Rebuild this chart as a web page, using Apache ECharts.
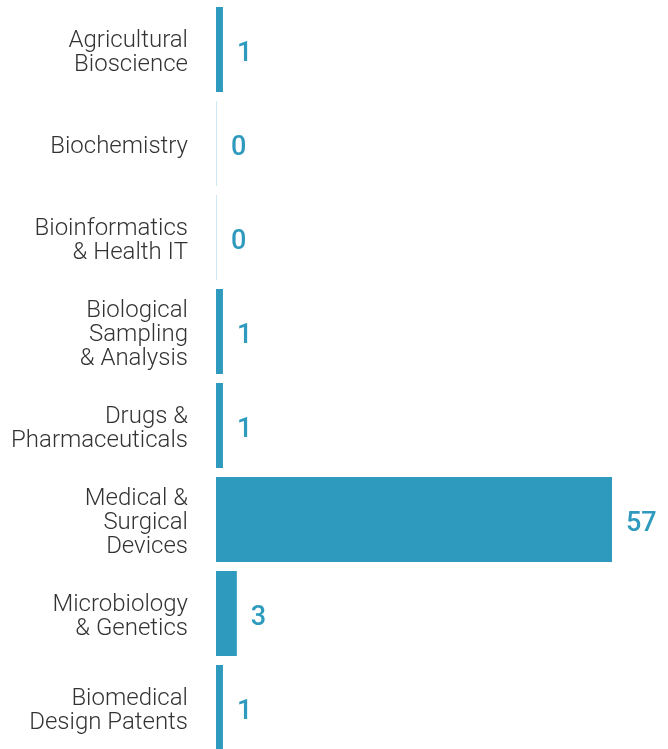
<!DOCTYPE html>
<html><head><meta charset="utf-8">
<script src="https://cdn.jsdelivr.net/npm/echarts@6/dist/echarts.min.js"></script>
<style>html,body{margin:0;padding:0;background:#fff;overflow:hidden}#c{width:668px;height:756px}</style>
</head><body><div id="c"></div>
<script>
const categories = ["Agricultural\nBioscience", "Biochemistry", "Bioinformatics\n& Health IT", "Biological\nSampling\n& Analysis", "Drugs &\nPharmaceuticals", "Medical &\nSurgical\nDevices", "Microbiology\n& Genetics", "Biomedical\nDesign Patents"];
const counts = [1, 0, 0, 1, 1, 57, 3, 1];
const xMax = 60;

const chart = echarts.init(document.getElementById('c'), null, {renderer: 'canvas'});
chart.setOption({
  animation: false,
  grid: {left: 216, top: 2.5, width: 396 * xMax / 57, height: 752, containLabel: false},
  xAxis: {type: 'value', min: 0, max: xMax, show: false},
  yAxis: {
    type: 'category', data: categories, inverse: true,
    axisLine: {show: false}, axisTick: {show: false}, splitLine: {show: false},
    axisLabel: {
      margin: 28, align: 'right', verticalAlign: 'middle',
      formatter: v => '{s| }\n' + v.split('\n').map(l => '{a|' + l + '}').join('\n'),
      rich: {
        s: {fontSize: 1, lineHeight: 7, height: 7},
        a: {fontFamily: 'Roboto', fontWeight: 300, fontSize: 24, lineHeight: 24, color: '#333333', align: 'right'}
      }
    }
  },
  series: [{
    type: 'bar', data: counts, barCategoryGap: '9.6%', barMinHeight: 1,
    itemStyle: {color: p => p.value === 0 ? '#cfe8f1' : '#2e9abd'},
    label: {show: true, position: 'right', distance: 14, offset: [0, 5], fontFamily: 'Roboto', fontWeight: 500, fontSize: 27, color: '#2e9abd'}
  }]
});
</script></body></html>
